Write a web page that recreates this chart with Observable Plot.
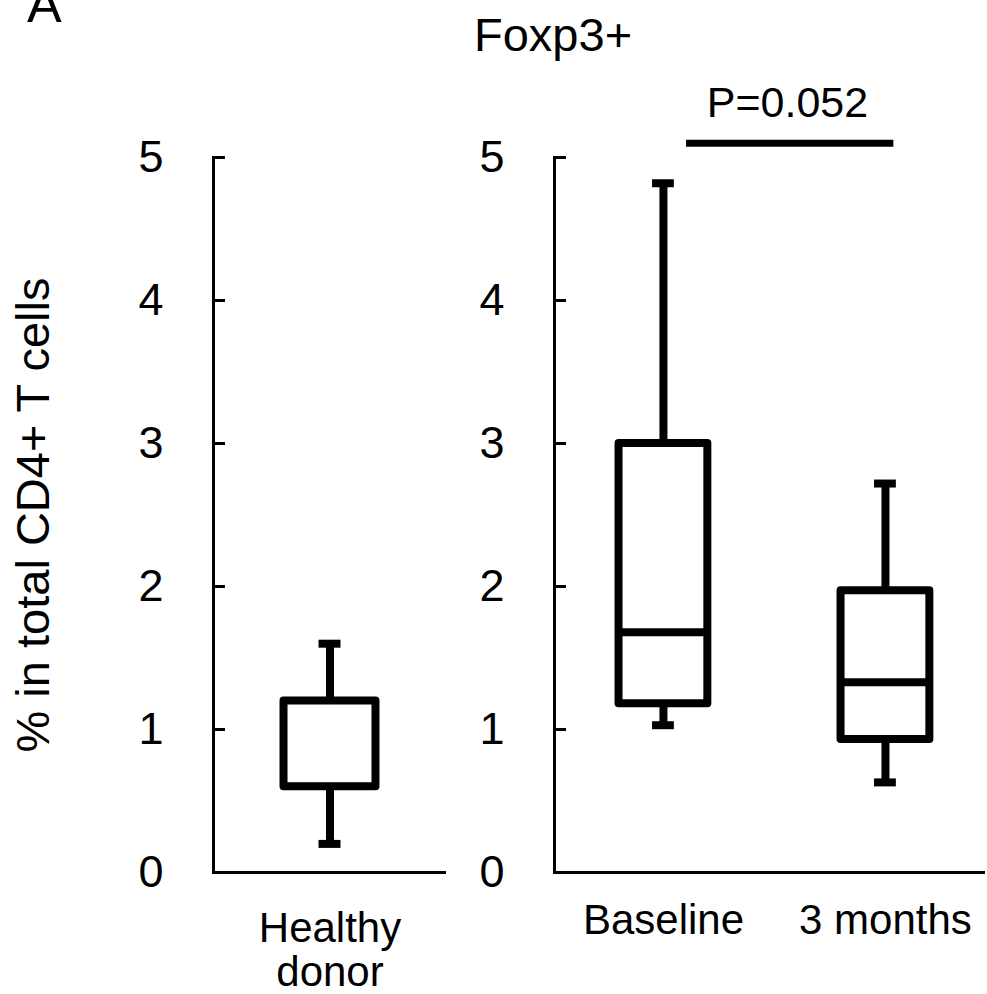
<!DOCTYPE html>
<html>
<head>
<meta charset="utf-8">
<script src="https://cdn.jsdelivr.net/npm/d3@7"></script>
<script src="https://cdn.jsdelivr.net/npm/@observablehq/plot@0.6"></script>
<style>
  body { margin: 0; background: #fff; font-family: "Liberation Sans", Arial, sans-serif; }
  #fig { position: relative; width: 987px; height: 994px; overflow: hidden; }
  .panel { position: absolute; top: 0; }
  .lbl { position: absolute; line-height: 1; white-space: nowrap; color: #000; }
</style>
</head>
<body>
<div id="fig">
  <div class="lbl" style="left:27px; top:-22px; font-size:52px;">A</div>
  <div class="lbl" style="left:474px; top:11px; font-size:47px;">Foxp3+</div>
</div>
<script>
// Foxp3+ cells as % of total CD4+ T cells (box = quartiles, whiskers = min/max)
const yTicks = [0, 1, 2, 3, 4, 5];
const yLabel = "% in total CD4+ T cells";

// Healthy donors
const healthyGroups = ["Healthy donor"];
const healthyTickLabels = ["Healthy\ndonor"];
const healthyMin = [0.20];
const healthyQ1 = [0.60];
const healthyMedian = [null];
const healthyQ3 = [1.20];
const healthyMax = [1.60];

// Patients, before and after treatment
const patientGroups = ["Baseline", "3 months"];
const patientTickLabels = ["Baseline", "3 months"];
const patientMin = [1.03, 0.63];
const patientQ1 = [1.18, 0.93];
const patientMedian = [1.68, 1.33];
const patientQ3 = [3.00, 1.97];
const patientMax = [4.82, 2.72];

// Comparison between the two patient time points
const pFrom = "Baseline";
const pTo = "3 months";
const pLevel = 5.1;
const pText = "P=0.052";

function rows(groups, mins, q1s, medians, q3s, maxs) {
  return groups.map((g, i) => ({group: g, min: mins[i], q1: q1s[i], median: medians[i], q3: q3s[i], max: maxs[i]}));
}

function boxMarks(data, capInset) {
  return [
    Plot.ruleX(data, {x: "group", y1: "q3", y2: "max", stroke: "black", strokeWidth: 8}),
    Plot.ruleX(data, {x: "group", y1: "min", y2: "q1", stroke: "black", strokeWidth: 8}),
    Plot.barY(data, {x: "group", y1: "q1", y2: "q3", fill: "white", stroke: "black", strokeWidth: 8, strokeLinejoin: "round"}),
    Plot.tickY(data.filter(d => d.median != null), {x: "group", y: "median", stroke: "black", strokeWidth: 8}),
    Plot.tickY(data, {x: "group", y: "max", stroke: "black", strokeWidth: 8, inset: capInset}),
    Plot.tickY(data, {x: "group", y: "min", stroke: "black", strokeWidth: 8, inset: capInset})
  ];
}

function axisMarks(groups, tickLabels, tickPadding) {
  return [
    Plot.ruleY([0], {stroke: "black", strokeWidth: 3}),
    Plot.frame({anchor: "left", stroke: "black", strokeWidth: 3}),
    Plot.axisY({
      ticks: yTicks, tickFormat: d => String(d), tickSize: -12, tickPadding: 62,
      strokeWidth: 3, fontSize: 45, label: null
    }),
    Plot.axisX({
      tickSize: 0, tickPadding, fontSize: 42, lineHeight: 1.05, label: null,
      tickFormat: d => tickLabels[groups.indexOf(d)]
    })
  ];
}

const style = {fontFamily: "Liberation Sans, Arial, sans-serif", color: "black", background: "transparent", overflow: "visible"};

const left = Plot.plot({
  width: 470, height: 994,
  marginLeft: 213, marginRight: 24, marginTop: 157, marginBottom: 122,
  style,
  x: {type: "band", domain: healthyGroups, padding: 0.434, round: false},
  y: {domain: [0, 5]},
  marks: [
    ...axisMarks(healthyGroups, healthyTickLabels, 38),
    // shared y-axis title, rotated along the left edge
    Plot.text([yLabel], {frameAnchor: "left", rotate: -90, dx: -198, lineAnchor: "top", textAnchor: "middle", fontSize: 47, fill: "black"}),
    ...boxMarks(rows(healthyGroups, healthyMin, healthyQ1, healthyMedian, healthyQ3, healthyMax), 35)
  ]
});

const comparison = [{from: pFrom, to: pTo, level: pLevel, text: pText}];

const right = Plot.plot({
  width: 517, height: 994,
  marginLeft: 84, marginRight: 2, marginTop: 157, marginBottom: 122,
  style,
  x: {type: "band", domain: patientGroups, paddingInner: 0.6, paddingOuter: 0.2707, align: 0.537, round: false},
  y: {domain: [0, 5]},
  marks: [
    ...axisMarks(patientGroups, patientTickLabels, 30),
    ...boxMarks(rows(patientGroups, patientMin, patientQ1, patientMedian, patientQ3, patientMax), 33.5),
    Plot.ruleY(comparison, {x1: "from", x2: "to", y: "level", stroke: "black", strokeWidth: 7, insetLeft: 67.5, insetRight: 36}),
    Plot.text(comparison, {x: "from", y: "level", text: "text", dx: 124, dy: -26, lineAnchor: "bottom", fontSize: 43, fill: "black"})
  ]
});

left.classList.add("panel");
left.style.left = "0px";
right.classList.add("panel");
right.style.left = "470px";
const fig = document.getElementById("fig");
fig.appendChild(left);
fig.appendChild(right);
</script>
</body>
</html>
